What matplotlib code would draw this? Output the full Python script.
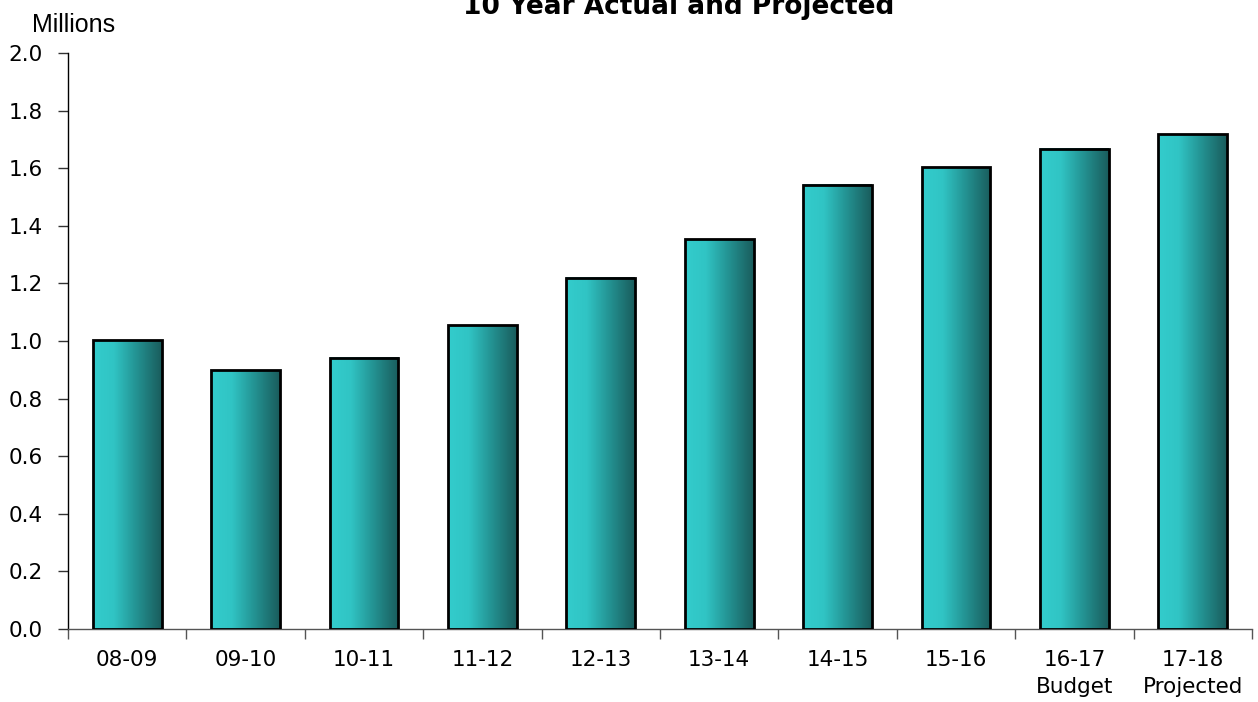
import numpy as np
import matplotlib
matplotlib.use("Agg")
import matplotlib.pyplot as plt
from matplotlib.colors import LinearSegmentedColormap

categories = ["08-09", "09-10", "10-11", "11-12", "12-13",
              "13-14", "14-15", "15-16", "16-17\nBudget", "17-18\nProjected"]
values = [1.003, 0.898, 0.942, 1.054, 1.219, 1.354, 1.542, 1.604, 1.667, 1.718]
yticks = [0.0, 0.2, 0.4, 0.6, 0.8, 1.0, 1.2, 1.4, 1.6, 1.8, 2.0]
title = "10 Year Actual and Projected"
unit_label = "Millions"

W, H = 1258, 702
fig = plt.figure(figsize=(W / 100, H / 100), dpi=100)
ax = fig.add_axes([68 / W, 73 / H, (1252 - 68) / W, (629 - 53) / H])

cmap = LinearSegmentedColormap.from_list(
    "teal", [(0.0, (0.20, 0.80, 0.80)), (0.30, (0.19, 0.77, 0.77)),
             (0.62, (0.14, 0.58, 0.58)), (1.0, (0.10, 0.36, 0.36))])
grad = np.linspace(0, 1, 256).reshape(1, -1)

x = np.arange(len(categories))
width = 0.58
bars = ax.bar(x, values, width=width, facecolor="none", edgecolor="black",
              linewidth=2.0, zorder=3)
for b in bars:
    x0 = b.get_x()
    ax.imshow(grad, extent=[x0, x0 + b.get_width(), 0, b.get_height()],
              aspect="auto", cmap=cmap, zorder=2, interpolation="bilinear")

ax.set_xlim(-0.5, len(categories) - 0.5)
ax.set_ylim(0, 2.0)
ax.set_yticks(yticks)
ax.set_yticklabels([f"{v:.1f}" for v in yticks])
ax.set_xticks(x)
ax.set_xticklabels(categories, linespacing=1.45)
ax.set_xticks(np.arange(-0.5, len(categories), 1.0), minor=True)

for s in ["top", "right"]:
    ax.spines[s].set_visible(False)
ax.spines["left"].set_color("black")
ax.spines["left"].set_linewidth(1.0)
ax.spines["bottom"].set_color("#555555")
ax.spines["bottom"].set_linewidth(1.0)

ax.tick_params(axis="x", which="major", length=0, pad=15, labelsize=15.5,
               labelcolor="black")
ax.tick_params(axis="x", which="minor", length=7, width=1.0, color="#555555",
               direction="out")
ax.tick_params(axis="y", length=7, width=1.0, direction="out", pad=11,
               labelsize=15.5, color="#333333")
for lbl in ax.get_xticklabels() + ax.get_yticklabels():
    lbl.set_family("DejaVu Sans")

fig.text(679 / W, 1 - 14 / H, title, ha="center", va="baseline",
         fontsize=19, fontweight="bold", family="DejaVu Sans")
fig.text(32 / W, 1 - 31.5 / H, unit_label, ha="left", va="baseline",
         fontsize=18, family="Liberation Sans")

fig.savefig("out.png", dpi=100)
